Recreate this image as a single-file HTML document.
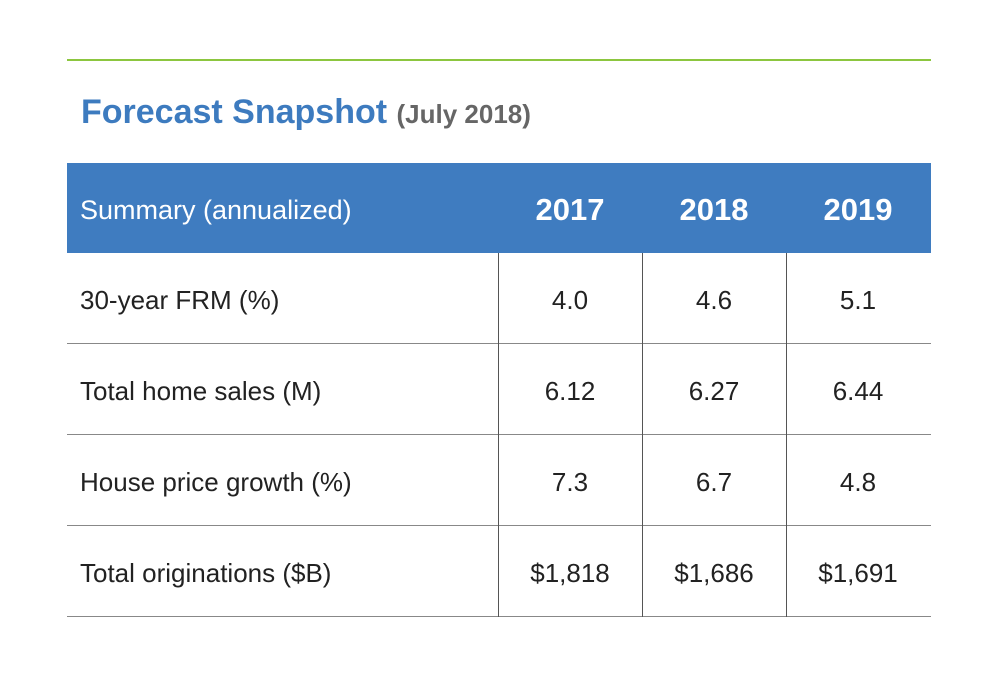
<!DOCTYPE html>
<html><head><meta charset="utf-8"><style>
body{margin:0;width:1000px;height:677px;background:#fff;font-family:"Liberation Sans",Arial,sans-serif;position:relative;overflow:hidden}
.abs{position:absolute}
.cell{position:absolute;display:flex;align-items:center;font-size:26px;color:#222;white-space:nowrap}
.num{justify-content:center;width:144px}
</style></head><body>
<div class="abs" style="left:67px;top:59px;width:864px;height:2px;background:#8cc63f"></div>
<div class="abs" style="left:81px;top:93px;font-size:34px;font-weight:bold;color:#3d7bbf;white-space:nowrap">Forecast Snapshot <span style="font-size:26px;color:#666;font-weight:bold">(July 2018)</span></div>
<div class="abs" style="left:67px;top:163px;width:864px;height:90px;background:#3f7cc0"></div>
<div class="cell" style="left:80px;top:165px;height:90px;color:#fff;font-size:27px">Summary (annualized)</div>
<div class="cell num" style="left:498px;top:165px;height:90px;color:#fff;font-weight:bold;font-size:31px">2017</div>
<div class="cell num" style="left:642px;top:165px;height:90px;color:#fff;font-weight:bold;font-size:31px">2018</div>
<div class="cell num" style="left:786px;top:165px;height:90px;color:#fff;font-weight:bold;font-size:31px">2019</div>
<div id="rows"></div>
<script>
const labels=["30-year FRM (%)","Total home sales (M)","House price growth (%)","Total originations ($B)"];
const v2017=["4.0","6.12","7.3","$1,818"];
const v2018=["4.6","6.27","6.7","$1,686"];
const v2019=["5.1","6.44","4.8","$1,691"];
const root=document.getElementById('rows');
const cols=[v2017,v2018,v2019];
labels.forEach((lab,i)=>{
  const top=253+i*91;
  const l=document.createElement('div');l.className='cell';
  
  
  l.style.cssText=`left:80px;top:${top+2}px;height:91px`;l.textContent=lab;root.appendChild(l);
  cols.forEach((c,j)=>{
    const d=document.createElement('div');d.className='cell num';
    
    
    d.style.cssText=`left:${498+j*144}px;top:${top+2}px;height:91px`;d.textContent=c[i];root.appendChild(d);
  });
  const h=document.createElement('div');h.className='abs';
  
  
  h.style.cssText=`left:67px;top:${top+90}px;width:864px;height:1px;background:#888`;root.appendChild(h);
});
[498,642,786].forEach(x=>{
  const v=document.createElement('div');v.className='abs';
  
  
  v.style.cssText=`left:${x}px;top:253px;width:1px;height:364px;background:#555`;root.appendChild(v);
});
</script>
</body></html>
